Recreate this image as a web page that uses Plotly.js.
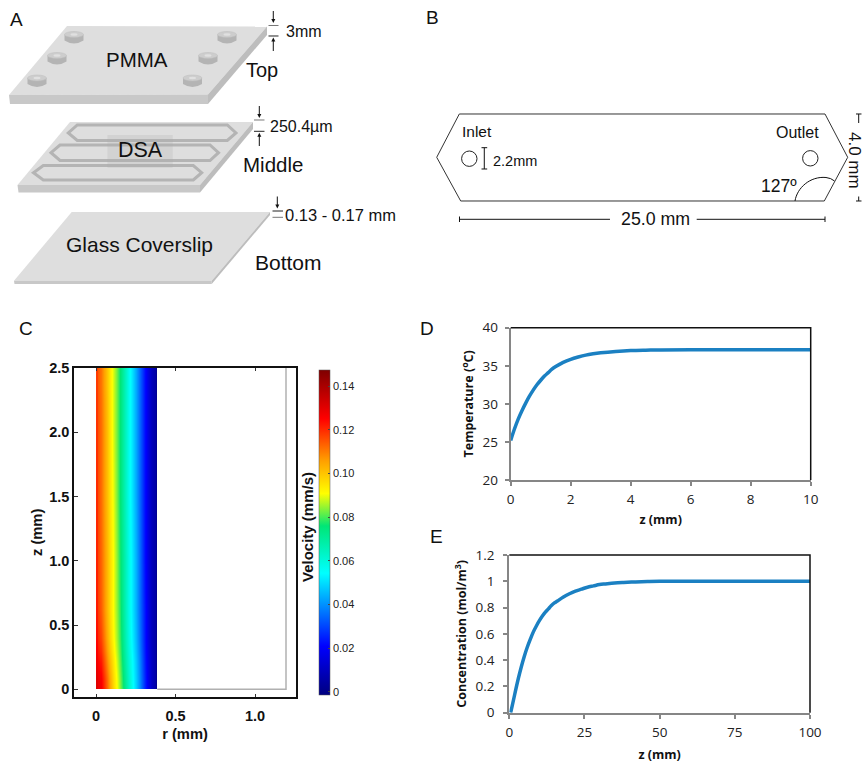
<!DOCTYPE html>
<html>
<head>
<meta charset="utf-8">
<script src="https://cdn.plot.ly/plotly-3.0.1.min.js"></script>
<style>html,body{margin:0;padding:0;background:#fff}#chart{width:865px;height:763px}</style>
</head>
<body>
<div id="chart"></div>
<script>
// Panel C: velocity field
var rEdges = [0, 0.01, 0.05, 0.09, 0.13, 0.17, 0.21, 0.25, 0.29, 0.33, 0.37, 0.385];
var zEdges = [0, 0.02, 0.15, 0.3, 0.5, 0.75, 1.25, 1.75, 2.25, 2.48, 2.5];
var velocity = [
  [0.131, 0.127, 0.113, 0.097, 0.084, 0.070, 0.056, 0.041, 0.025, 0.010, 0.002],
  [0.130, 0.126, 0.112, 0.096, 0.083, 0.069, 0.055, 0.041, 0.025, 0.010, 0.002],
  [0.127, 0.122, 0.108, 0.094, 0.081, 0.067, 0.054, 0.040, 0.024, 0.010, 0.002],
  [0.124, 0.117, 0.104, 0.091, 0.079, 0.065, 0.052, 0.038, 0.023, 0.009, 0.002],
  [0.122, 0.114, 0.102, 0.090, 0.078, 0.064, 0.051, 0.037, 0.023, 0.009, 0.002],
  [0.121, 0.113, 0.102, 0.090, 0.077, 0.064, 0.051, 0.037, 0.022, 0.009, 0.002],
  [0.120, 0.112, 0.101, 0.089, 0.076, 0.063, 0.050, 0.036, 0.022, 0.009, 0.002],
  [0.119, 0.112, 0.101, 0.088, 0.076, 0.063, 0.050, 0.036, 0.022, 0.009, 0.002],
  [0.118, 0.111, 0.100, 0.088, 0.076, 0.063, 0.050, 0.036, 0.022, 0.009, 0.002],
  [0.118, 0.111, 0.100, 0.088, 0.076, 0.063, 0.050, 0.036, 0.022, 0.009, 0.002]
];
var velocityTicks = [0, 0.02, 0.04, 0.06, 0.08, 0.10, 0.12, 0.14];
var velocityTickText = ['0', '0.02', '0.04', '0.06', '0.08', '0.10', '0.12', '0.14'];
var rTicks = [0, 0.5, 1.0];
var rTickText = ['0', '0.5', '1.0'];
var zTicks = [0, 0.5, 1.0, 1.5, 2.0, 2.5];
var zTickText = ['0', '0.5', '1.0', '1.5', '2.0', '2.5'];

// Panel D: temperature
var tempZ = [0, 0.125, 0.25, 0.375, 0.5, 0.625, 0.75, 0.875, 1, 1.125, 1.25, 1.375, 1.5, 1.75, 2, 2.25, 2.5, 2.75, 3, 3.5, 4, 4.5, 5, 6, 8, 10];
var tempC = [25.2, 26.7, 28, 29.1, 30.1, 31, 31.8, 32.5, 33.1, 33.65, 34.1, 34.55, 34.9, 35.45, 35.85, 36.15, 36.4, 36.57, 36.7, 36.88, 37, 37.05, 37.08, 37.1, 37.1, 37.1];

// Panel E: concentration
var concZ = [0.45, 1, 2, 3, 4, 5, 6, 7, 8, 9, 10, 11, 12, 13, 14, 15, 16, 18, 20, 22, 24, 26, 28, 30, 32, 35, 38, 42, 46, 50, 60, 80, 100];
var concV = [0, 0.055, 0.16, 0.26, 0.35, 0.43, 0.5, 0.56, 0.615, 0.66, 0.7, 0.735, 0.765, 0.79, 0.815, 0.835, 0.85, 0.88, 0.905, 0.925, 0.94, 0.955, 0.965, 0.975, 0.98, 0.987, 0.991, 0.995, 0.998, 1, 1, 1, 1];

var W = 865, H = 763;
var SANS = 'Liberation Sans, Arial, sans-serif';
var CAL = 'Open Sans, sans-serif';
function fx(x) { return x / W; }
function fy(y) { return 1 - y / H; }
function p(cmds) { // cmds: [letter, x, y, ...] in window pixels, converted to paper fractions
  return cmds.map(function (c) {
    var s = c[0];
    for (var i = 1; i < c.length; i += 2) s += ' ' + fx(c[i]).toFixed(5) + ',' + fy(c[i + 1]).toFixed(5);
    return s;
  }).join(' ');
}
var shapes = [];
function path(cmds, fill, stroke, width) {
  shapes.push({ type: 'path', xref: 'paper', yref: 'paper', path: p(cmds), fillcolor: fill || 'rgba(0,0,0,0)',
    line: { color: stroke || 'rgba(0,0,0,0)', width: stroke ? (width || 1) : 0 } });
}
function poly(pts, fill, stroke, width) {
  var c = pts.map(function (q, i) { return [i ? 'L' : 'M', q[0], q[1]]; });
  c.push(['Z']);
  path(c, fill, stroke, width);
}
function seg(x0, y0, x1, y1, col, w) { path([['M', x0, y0], ['L', x1, y1]], null, col || '#111', w || 1); }
function circle(cx, cy, rx, ry, fill, stroke, w) {
  shapes.push({ type: 'circle', xref: 'paper', yref: 'paper', x0: fx(cx - rx), x1: fx(cx + rx), y0: fy(cy + ry), y1: fy(cy - ry),
    fillcolor: fill || 'rgba(0,0,0,0)', line: { color: stroke || 'rgba(0,0,0,0)', width: stroke ? (w || 1) : 0 } });
}
function arrow(x, y0, y1) { // vertical arrow ending at y1
  var d = y1 > y0 ? 1 : -1;
  seg(x, y0, x, y1 - d * 3, '#111', 1);
  poly([[x - 2, y1 - d * 4], [x + 2, y1 - d * 4], [x, y1]], '#111');
}

// ---- Panel A plates ----
var TOP = '#dedede', SIDE = '#c8c8c8', EDGE = '#bdbdbd';
poly([[67, 26], [267, 26.5], [208, 94.5], [9, 95]], TOP);
poly([[9, 95], [208, 94.5], [208, 104], [10, 104]], SIDE);
poly([[267, 26.5], [267, 35], [208, 104], [208, 94.5]], EDGE);
[[74, 37.5], [227, 37.5], [57, 58.5], [208, 58.5], [37, 81], [192.5, 81]].forEach(function (s) {
  var x = s[0], y = s[1], rx = 9.5, ry = 3;
  path([['M', x - rx, y - 3], ['L', x - rx, y + 3], ['Q', x, y + 3 + 2 * ry, x + rx, y + 3], ['L', x + rx, y - 3], ['Z']], '#b4b4b4');
  circle(x, y - 3, rx, ry, '#cdcdcd', '#bdbdbd', 0.5);
  circle(x, y - 3, 3.5, 1.2, '#e0e0e0');
});
poly([[70, 122], [253, 122], [200, 185], [17.5, 185]], TOP);
poly([[17.5, 185], [200, 185], [200, 192.5], [18.5, 192.5]], SIDE);
poly([[253, 122], [253, 129], [200, 192.5], [200, 185]], EDGE);
var CH = '#b4b4b4';
poly([[77.3, 125], [227.3, 125], [236, 133], [227.3, 140.5], [77.3, 140.5], [68.3, 133]], null, CH, 3);
poly([[60, 145], [210, 145], [218.5, 152.7], [210, 160.5], [60, 160.5], [51, 152.7]], null, CH, 3);
poly([[43.3, 165.5], [193.3, 165.5], [201.7, 172.7], [193.3, 180], [43.3, 180], [33.5, 172.7]], null, CH, 3);
poly([[107.5, 135], [172.7, 135], [172.7, 167.7], [107.5, 167.7]], 'rgba(170,170,170,0.24)');
poly([[71.7, 212], [270, 212], [211.7, 280.7], [14, 280.7]], TOP);
poly([[14, 280.7], [211.7, 280.7], [211.7, 284], [14.5, 284]], SIDE);
poly([[270, 212], [270, 215], [211.7, 284], [211.7, 280.7]], EDGE);
// Panel A thickness markers
arrow(273.3, 11, 23);
seg(268.5, 25.5, 278.5, 25.5, '#777', 1);
seg(268.5, 36, 278.5, 36, '#222', 1);
arrow(273.3, 51, 37.5);
arrow(259.3, 106, 118);
seg(254, 120, 264.5, 120, '#777', 1);
seg(254, 131.3, 264.5, 131.3, '#222', 1);
arrow(259.3, 146, 132.7);
arrow(277.3, 196.5, 208.5);
seg(272.5, 211, 283, 211, '#222', 1);
seg(272.5, 217.3, 283, 217.3, '#777', 1);

// ---- Panel B outline ----
poly([[459.3, 114], [825, 114], [847.7, 157.3], [824.3, 201], [460.7, 201], [436.7, 157.3]], null, '#333', 1);
circle(469.3, 158.7, 7.7, 7.7, null, '#222', 1);
circle(810.3, 158.3, 7.7, 7.7, null, '#222', 1);
seg(484.3, 147.7, 484.3, 169, '#111', 1);
seg(481.5, 147.7, 487.2, 147.7, '#111', 1);
seg(481.5, 169, 487.2, 169, '#111', 1);
path([['M', 795, 201], ['C', 797, 188, 810, 176, 826, 177.5], ['Q', 831, 178, 834.5, 181]], null, '#111', 1);
seg(459.5, 219.3, 610, 219.3, '#111', 1);
seg(696.7, 219.3, 825, 219.3, '#111', 1);
seg(459.5, 216.5, 459.5, 222, '#111', 1);
seg(825, 216.5, 825, 222, '#111', 1);
seg(858.7, 114, 858.7, 123, '#111', 1);
seg(856, 114, 861.5, 114, '#111', 1);
seg(858.7, 196.5, 858.7, 201, '#111', 1);
seg(856, 201, 861.5, 201, '#111', 1);

// ---- Panel C wall outline, in data units ----
shapes.push({ type: 'path', xref: 'x', yref: 'y', path: 'M 0.385,0 L 1.195,0 L 1.195,2.51', line: { color: '#b0b0b0', width: 1.5 }, layer: 'above' });

// Panel D/E black top and right edges
[['x2 domain', 'y2 domain'], ['x3 domain', 'y3 domain']].forEach(function (r) {
  shapes.push({ type: 'path', xref: r[0], yref: r[1], path: 'M 0,1 L 1,1 L 1,0', line: { color: '#111', width: 1.5 }, layer: 'above' });
});

// ---- Text ----
function note(text, x, y, size, anchor, extra) {
  var a = { text: text, xref: 'paper', yref: 'paper', x: fx(x), y: fy(y), xanchor: anchor || 'center', yanchor: 'middle',
    showarrow: false, font: { family: SANS, size: size, color: '#111' }, borderpad: 0 };
  for (var k in (extra || {})) a[k] = extra[k];
  return a;
}
var annotations = [
  note('A', 16.5, 19, 19), note('B', 432, 18, 19), note('C', 25.7, 328, 19), note('D', 426.7, 328, 19), note('E', 436.7, 536, 19),
  note('PMMA', 137, 60, 20.5), note('Top', 262, 70, 20), note('3mm', 284.5, 32, 16, 'left'),
  note('DSA', 140, 150, 21.5), note('Middle', 273, 165, 20.5), note('250.4µm', 269, 126, 16, 'left'),
  note('Glass Coverslip', 139.5, 244, 21), note('Bottom', 288.5, 262, 21), note('0.13 - 0.17 mm', 283.5, 215, 16.5, 'left'),
  note('Inlet', 460.5, 131, 15.5, 'left'), note('Outlet', 797.7, 132, 16), note('2.2mm', 492, 160.5, 14.5, 'left'),
  note('127º', 779, 186, 17.5), note('25.0 mm', 655, 219, 17.8),
  note('4.0 mm', 855, 160, 17, 'center', { textangle: 90 }),
  note('<b>Velocity (mm/s)</b>', 307, 527, 15, 'center', { textangle: -90 })
];

var jet = [[0, '#00007f'], [0.15, '#0000ff'], [0.375, '#00ffff'], [0.52, '#00e676'], [0.62, '#ffff00'], [0.72, '#ffa000'], [0.85, '#ff0000'], [1, '#7f0000']];

var traces = [
  { type: 'heatmap', x: rEdges, y: zEdges, z: velocity, zsmooth: 'best', colorscale: jet, zmin: -0.0014, zmax: 0.1474, xaxis: 'x', yaxis: 'y',
    colorbar: { x: 319 / W, xanchor: 'left', xpad: 0, ypad: 0, y: fy(532.5), yanchor: 'middle', len: 325, lenmode: 'pixels', thickness: 11, thicknessmode: 'pixels',
      tickmode: 'array', tickvals: velocityTicks, ticktext: velocityTickText, ticks: 'inside', ticklen: 2, tickcolor: '#444', tickwidth: 1,
      tickfont: { family: SANS, size: 11, color: '#222' }, outlinewidth: 0.5, outlinecolor: '#555' } },
  { type: 'scatter', mode: 'lines', x: tempZ, y: tempC, xaxis: 'x2', yaxis: 'y2', line: { color: '#1b80c2', width: 3.5, simplify: false, shape: 'spline', smoothing: 1 } },
  { type: 'scatter', mode: 'lines', x: concZ, y: concV, xaxis: 'x3', yaxis: 'y3', line: { color: '#1b80c2', width: 3.5, simplify: false, shape: 'spline', smoothing: 1 } }
];

function boldTitle(text, standoff, size, fam) {
  return { text: text, standoff: standoff, font: { family: fam, size: size, weight: 'bold', color: '#111' } };
}
function chartAxis(dom, anchor, title, standoff, range, dtick, labelGap) {
  return { domain: dom, anchor: anchor, range: range, dtick: dtick, tick0: 0, showgrid: false, zeroline: false,
    showline: true, linecolor: '#868686', linewidth: 2, ticks: 'outside', ticklen: 4, tickwidth: 2, tickcolor: '#868686',
    ticklabelstandoff: labelGap, tickfont: { family: CAL, size: 13.5, color: '#222' }, title: boldTitle(title, standoff, 12.5, CAL) };
}

var layout = {
  width: W, height: H, margin: { l: 0, r: 0, t: 0, b: 0 }, paper_bgcolor: '#fff', plot_bgcolor: 'rgba(0,0,0,0)', showlegend: false,
  xaxis: { domain: [fx(74), fx(296)], anchor: 'y', range: [-0.1384, 1.2579], tickmode: 'array', tickvals: rTicks, ticktext: rTickText,
    showgrid: false, zeroline: false, showline: true, linecolor: '#111', linewidth: 1.5, mirror: 'ticks', ticks: 'inside', ticklen: 3, tickcolor: '#333',
    tickfont: { family: SANS, size: 14.5, weight: 'bold', color: '#111' }, ticklabelstandoff: 5, title: boldTitle('r (mm)', 6, 14.7, SANS) },
  yaxis: { domain: [fy(696.7), fy(368)], anchor: 'x', range: [-0.0576, 2.5], tickmode: 'array', tickvals: zTicks, ticktext: zTickText,
    showgrid: false, zeroline: false, showline: true, linecolor: '#111', linewidth: 1.5, mirror: true, ticks: 'inside', ticklen: 4, tickcolor: '#333',
    ticklabelshift: 3.5, tickfont: { family: SANS, size: 14.5, weight: 'bold', color: '#111' }, title: boldTitle('z (mm)', 3, 14.7, SANS) },
  xaxis2: chartAxis([fx(510.7), fx(810.7)], 'y2', 'z (mm)', 8, [0, 10], 2, 2),
  yaxis2: chartAxis([fy(480), fy(327.7)], 'x2', 'Temperature (<sup>o</sup>C)', 6, [20, 40], 5, 4),
  xaxis3: chartAxis([fx(509.3), fx(810)], 'y3', 'z (mm)', 12, [0, 100], 25, 2),
  yaxis3: chartAxis([fy(712.7), fy(555)], 'x3', 'Concentration (mol/m<sup>3</sup>)', 6, [0, 1.2], 0.2, 6),
  shapes: shapes, annotations: annotations
};
Plotly.newPlot('chart', traces, layout, { displayModeBar: false, responsive: false });
</script>
</body>
</html>
